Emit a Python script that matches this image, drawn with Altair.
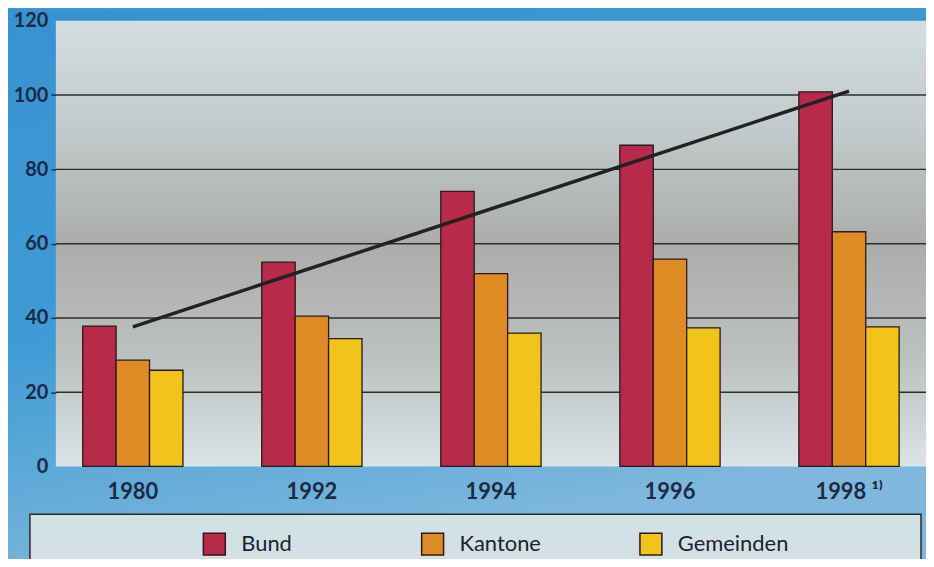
import altair as alt
import pandas as pd

# ---- data ----
years = ["1980", "1992", "1994", "1996", "1998"]
series = ["Bund", "Kantone", "Gemeinden"]
bund = [37.8, 55.0, 74.1, 86.5, 100.9]
kantone = [28.6, 40.5, 51.9, 55.8, 63.2]
gemeinden = [25.9, 34.4, 35.9, 37.3, 37.6]
trend_years = ["1980", "1998"]
trend_values = [37.6, 101.1]
grid_values = [20, 40, 60, 80, 100]
y_ticks = [0, 20, 40, 60, 80, 100, 120]
colors = ["#b8294a", "#e08a25", "#f0c419"]

rows = []
for i, y in enumerate(years):
    for s, vals in zip(series, [bund, kantone, gemeinden]):
        rows.append({"year": y, "series": s, "value": vals[i]})
df = pd.DataFrame(rows)
trend_df = pd.DataFrame({"year": trend_years, "value": trend_values})
grid_df = pd.DataFrame({"value": grid_values})

W, H = 873, 447
PAD = {"left": 48, "top": 12, "right": 0, "bottom": 92}

one = alt.Data(values=[{"a": 1}])

blue_grad = alt.LinearGradient(
    gradient="linear", x1=0, y1=0, x2=0.3, y2=1,
    stops=[alt.GradientStop(color="#3892d2", offset=0),
           alt.GradientStop(color="#3f9bd5", offset=0.55),
           alt.GradientStop(color="#7fb8dc", offset=1)])
plot_grad = alt.LinearGradient(
    gradient="linear", x1=0, y1=0, x2=0, y2=1,
    stops=[alt.GradientStop(color="#d2dedf", offset=0),
           alt.GradientStop(color="#c4cccd", offset=0.22),
           alt.GradientStop(color="#abadaa", offset=0.5),
           alt.GradientStop(color="#bcc0bf", offset=0.75),
           alt.GradientStop(color="#dae4e6", offset=1)])

bg = alt.Chart(one).mark_rect(fill=blue_grad).encode(
    x=alt.value(-PAD["left"]), x2=alt.value(W + 10),
    y=alt.value(-PAD["top"]), y2=alt.value(H + PAD["bottom"] + 10))

plot_bg = alt.Chart(one).mark_rect(fill=plot_grad).encode(
    x=alt.value(0), x2=alt.value(W), y=alt.value(0), y2=alt.value(H))

legend_box = alt.Chart(one).mark_rect(
    fill="#d3e1e5", stroke="#2a2a2a", strokeWidth=1.5).encode(
    x=alt.value(-26), x2=alt.value(868), y=alt.value(495), y2=alt.value(H + PAD["bottom"] + 20))

yscale = alt.Scale(domain=[0, 120], nice=False)
xscale = alt.Scale(paddingInner=0.44, paddingOuter=0.15)

y_axis = alt.Axis(title=None, values=y_ticks, grid=False, zindex=1,
                  domain=False, tickSize=5, tickColor="#2e2e2e", tickWidth=1.5,
                  tickOpacity={"condition": {"test": "datum.value == 0 || datum.value == 120", "value": 0}, "value": 1},
                  labelFont="Lato", labelFontWeight="bold", labelFontSize=20,
                  labelColor="#1c2a44", labelPadding=3)

grid = alt.Chart(grid_df).mark_rule(color="#2e2e2e", strokeWidth=1.5).encode(
    y=alt.Y("value:Q", scale=yscale, axis=y_axis))

bars = alt.Chart(df).mark_bar(stroke="#2a1a1a", strokeWidth=1.3).encode(
    x=alt.X("year:N", sort=years, scale=xscale,
            axis=alt.Axis(title=None, domain=False, ticks=False, labelAngle=0, zindex=1,
                          labelFont="Lato", labelFontWeight="bold", labelFontSize=22,
                          labelColor="#1c2a44", labelPadding=15,
                          labelExpr="datum.value == '1998' ? '1998 \u00b9\u207e' : datum.value")),
    xOffset=alt.XOffset("series:N", sort=series, scale=alt.Scale(paddingInner=0, paddingOuter=0)),
    y=alt.Y("value:Q", scale=yscale, axis=y_axis),
    color=alt.Color("series:N", sort=series,
                    scale=alt.Scale(domain=series, range=colors),
                    legend=alt.Legend(title=None, orient="none", legendX=147, legendY=513,
                                      direction="horizontal", columns=3, gridAlign="all",
                                      columnPadding=66, padding=0,
                                      symbolType="square", symbolSize=484,
                                      symbolStrokeColor="#2a1a1a", symbolStrokeWidth=1.5,
                                      symbolOpacity=1,
                                      labelFont="Lato", labelFontSize=22, labelColor="#1c2233",
                                      labelOffset=15, labelLimit=300)),
)

trend = alt.Chart(trend_df).mark_line(color="#222222", strokeWidth=3.5).encode(
    x=alt.X("year:N", sort=years, scale=xscale),
    y=alt.Y("value:Q", scale=yscale, axis=y_axis),
)

chart = alt.layer(bg, plot_bg, legend_box, grid, bars, trend).properties(
    width=W, height=H, padding=PAD,
    autosize=alt.AutoSizeParams(type="none"),
    background="#3d9ad5",
).configure_view(stroke=None)

chart.save("out.html", embed_options={"renderer": "svg", "actions": False})
